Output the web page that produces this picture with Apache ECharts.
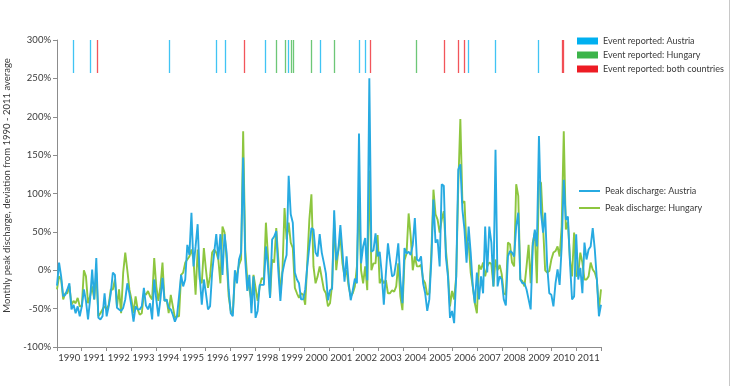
<!DOCTYPE html>
<html>
<head>
<meta charset="utf-8">
<script src="https://cdn.jsdelivr.net/npm/echarts@6/dist/echarts.min.js"></script>
<style>
html,body{margin:0;padding:0;background:#fff;}
#chart{width:732px;height:386px;}
</style>
</head>
<body>
<div id="chart"></div>
<script>
// ---- Data ----
const years = ['1990','1991','1992','1993','1994','1995','1996','1997','1998','1999','2000',
               '2001','2002','2003','2004','2005','2006','2007','2008','2009','2010','2011'];

// Monthly peak discharge, deviation from 1990-2011 average (%), Jan 1990 .. Dec 2011
const austria = [
  -20, 10, -8, -34, -32, -25, -17, -51, -45, -56, -47, -60,   // 1990
  -47, -25, -40, -64, -38, 1, -38, 16, -62, -64, -60, -30,    // 1991
  -60, -47, -30, -3, -6, -49, -51, -53, -49, -38, -17, -30,   // 1992
  -47, -67, -47, -51, -51, -47, -23, -46, -51, -43, -64, -12, // 1993
  -38, -60, -38, -10, -40, -38, -49, -51, -58, -67, -60, -34, // 1994
  -6, -21, -12, 33, 20, 75, 5, 31, 60, -8, -45, -12,          // 1995
  -30, -51, -47, -3, 23, 47, 14, 47, -6, 47, 23, -25,         // 1996
  -56, -60, 0, -17, 14, 23, 147, 14, -27, -6, -56, -8,        // 1997
  -62, -53, -19, -19, -19, 31, 5, -36, 40, 44, 51, -1,        // 1998
  -40, -3, 10, 20, 123, 73, 62, -3, -12, -17, -38, -38,       // 1999
  -25, 5, 31, 55, 53, 23, 18, 47, 23, 10, -4, -39,            // 2000
  -26, -24, 78, 13, 26, 59, 24, -15, 18, -17, -39, -26,       // 2001
  -11, -17, 178, 9, 31, 42, -13, 250, 24, 26, 48, 18,         // 2002
  24, -4, -45, -4, 35, 13, -8, -6, 11, 35, -13, -43,          // 2003
  29, 22, 24, 20, 33, 68, 14, 12, 18, -17, -30, -53,          // 2004
  -38, 14, 92, 36, 40, 5, 112, 110, 18, -8, -62, -53,         // 2005
  -69, -8, 131, 138, 79, 53, 10, 57, 23, -20, -43, -3,        // 2006
  -38, -8, -30, 57, -3, 57, 36, -21, 157, -21, -8, -12,       // 2007
  -38, -46, 18, 25, 23, 18, 57, 75, -12, -17, -17, -25,       // 2008
  -38, -51, 31, 53, 31, 175, 75, 49, 75, 5, -30, -32,         // 2009
  -47, -17, 1, -19, 31, 118, 66, 70, 10, -38, -34, 47,        // 2010
  -12, 3, -30, 36, 14, 27, 31, 55, 27, -12, -60, -45          // 2011
];
const hungary = [
  -25, -8, -12, -38, -30, -30, -21, -45, -40, -43, -36, -47,  // 1990
  -47, 0, -8, -43, -34, -21, -38, -3, -60, -56, -51, -47,     // 1991
  -51, -45, -25, -25, -12, -47, -25, -56, -3, 23, 0, -25,     // 1992
  -38, -56, -34, -51, -58, -56, -30, -32, -27, -34, -38, 16,  // 1993
  -21, -40, -21, 10, -40, -38, -56, -32, -47, -62, -60, -60,  // 1994
  -6, -3, 10, 14, 18, 27, 14, -32, 27, -12, -17, 29,          // 1995
  1, -23, -8, 23, 27, 23, 14, -17, 57, 49, 14, -34,           // 1996
  -53, -56, -8, -5, 7, 14, 181, 27, -12, -25, -40, -6,        // 1997
  -23, -40, -21, -10, -12, 62, 18, -36, 14, 10, 55, 14,       // 1998
  -30, 0, 81, 40, 62, 36, 29, -23, -30, -36, -30, -32,        // 1999
  -45, 10, 66, 99, 5, -17, -8, 5, -10, -25, -30, -47,         // 2000
  -43, -19, 65, 0, 26, 44, 9, -8, 0, -21, -34, -30,           // 2001
  -21, 5, 96, 0, -17, 5, -26, 130, 0, 9, 9, 46,               // 2002
  -17, -11, -17, -13, -30, -30, -26, -28, -21, 9, -34, -52,   // 2003
  13, 22, 74, 44, 0, 18, 5, 5, 7, -12, -17, -32,              // 2004
  -30, 23, 105, 73, 66, 49, 66, 77, 27, -3, -47, -27,         // 2005
  -38, -8, 110, 197, 88, 90, 27, 36, -3, -21, -43, -56,       // 2006
  7, 1, 10, -8, 5, 10, 8, -21, 14, 0, 7, -5,                  // 2007
  -30, -32, 36, 34, 10, 5, 112, 97, -12, -14, -21, 5,         // 2008
  33, -17, 36, 49, -17, 116, 114, 57, 0, -3, -1, 14,          // 2009
  23, 25, 31, 18, 57, 181, 53, 63, 14, -8, 49, -8,            // 2010
  -5, 23, 10, -12, -12, -8, 10, 1, -3, -12, -51, -25          // 2011
];

// Reported flood events (decimal year)
const eventsAustria = [1990.67, 1991.34, 1994.51, 1996.42, 1996.76, 1998.41, 1999.33,
                       2000.59, 2002.16, 2002.40, 2006.57, 2007.65, 2009.38];
const eventsHungary = [1998.84, 1999.18, 1999.42, 1999.51, 2000.25, 2001.17, 2004.49];
const eventsBoth    = [1991.62, 1997.54, 2002.61, 2005.59, 2006.17, 2006.41, 2010.34, 2010.40];
const eventBand = [257, 300];

const yTicks = { min: -100, max: 300, interval: 50 };

// ---- Build ----
const startYear = 1990;
const toPairs = arr => arr.map((v, i) => [startYear + i / 12, v]);
const lastX = startYear + (austria.length - 1) / 12;

const FONT = 'Lato';
const TXT = '#3a3a3a';
const AX = '#8c8c8c';

function eventSeries(name, color, list) {
  return {
    name: name, type: 'line', xAxisIndex: 0, yAxisIndex: 0, data: [],
    symbol: 'none',
    itemStyle: { color: color }, lineStyle: { color: color },
    markLine: {
      silent: true, symbol: ['none', 'none'], animation: false,
      label: { show: false },
      lineStyle: { color: color, width: 1.3, type: 'solid', opacity: 0.75 },
      emphasis: { disabled: true },
      data: list.map(t => [{ coord: [t, eventBand[0]] }, { coord: [t, eventBand[1]] }])
    }
  };
}

const chart = echarts.init(document.getElementById('chart'), null, { renderer: 'canvas' });
chart.setOption({
  animation: false,
  backgroundColor: '#ffffff',
  textStyle: { fontFamily: FONT },
  grid: { left: 57, right: 131, top: 40, bottom: 39, containLabel: false, outerBoundsMode: 'none' },
  xAxis: [
    { type: 'value', min: startYear, max: lastX, show: false },
    { type: 'category', data: years, position: 'bottom', boundaryGap: true,
      axisLine: { lineStyle: { color: AX, width: 1 } },
      axisTick: { show: true, length: 4, lineStyle: { color: AX } },
      axisLabel: { color: TXT, fontSize: 9.5, fontFamily: FONT, margin: 6, interval: 0 },
      splitLine: { show: false } }
  ],
  yAxis: {
    type: 'value', min: yTicks.min, max: yTicks.max, interval: yTicks.interval,
    name: 'Monthly peak discharge, deviation from 1990 - 2011 average',
    nameLocation: 'middle', nameGap: 40, nameRotate: 90,
    nameTextStyle: { color: TXT, fontSize: 9.5, fontFamily: FONT, padding: [0, 0, 0, 16] },
    axisLine: { show: true, lineStyle: { color: AX, width: 1 } },
    axisTick: { show: true, length: 4, lineStyle: { color: AX } },
    axisLabel: { color: TXT, fontSize: 9.5, fontFamily: FONT, margin: 6, formatter: '{value}%' },
    splitLine: { show: false }
  },
  legend: [
    { data: ['Event reported: Austria', 'Event reported: Hungary', 'Event reported: both countries'],
      orient: 'vertical', left: 577, top: 35, padding: 0, icon: 'rect', itemWidth: 21, itemHeight: 7,
      itemGap: 2, selectedMode: false,
      textStyle: { color: TXT, fontSize: 9, fontFamily: FONT, lineHeight: 12 } },
    { data: ['Peak discharge: Austria', 'Peak discharge: Hungary'],
      orient: 'vertical', left: 579, top: 185, padding: 0, icon: 'rect', itemWidth: 21, itemHeight: 2,
      itemGap: 5, selectedMode: false,
      textStyle: { color: TXT, fontSize: 9, fontFamily: FONT, lineHeight: 12 } }
  ],
  graphic: [
    { type: 'line', shape: { x1: 729.5, y1: 0, x2: 729.5, y2: 386 },
      style: { stroke: '#c8c8c8', lineWidth: 1 }, silent: true }
  ],
  series: [
    eventSeries('Event reported: Austria', '#00b0f0', eventsAustria),
    eventSeries('Event reported: Hungary', '#3cb44a', eventsHungary),
    eventSeries('Event reported: both countries', '#ed1c24', eventsBoth),
    { name: 'Peak discharge: Hungary', type: 'line', xAxisIndex: 0, data: toPairs(hungary),
      symbol: 'none', showSymbol: false, z: 3,
      itemStyle: { color: '#8dc63f' }, lineStyle: { color: '#8dc63f', width: 1.9 } },
    { name: 'Peak discharge: Austria', type: 'line', xAxisIndex: 0, data: toPairs(austria),
      symbol: 'none', showSymbol: false, z: 4,
      itemStyle: { color: '#27aae1' }, lineStyle: { color: '#27aae1', width: 1.9 } }
  ]
});
</script>
</body>
</html>
